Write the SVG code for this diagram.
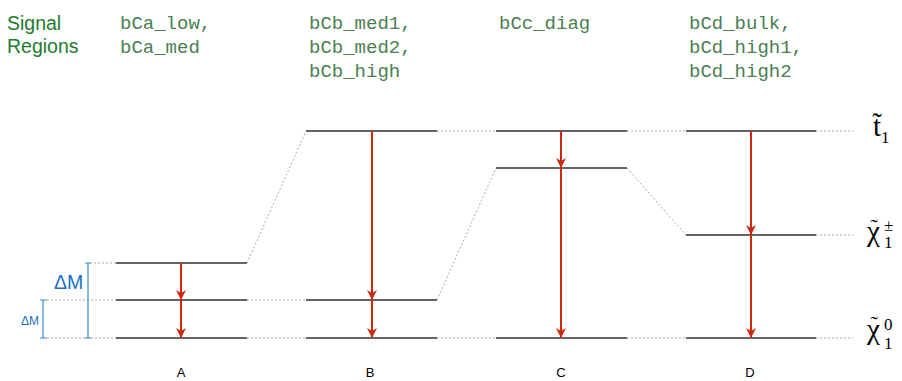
<svg xmlns="http://www.w3.org/2000/svg" width="902" height="381" viewBox="0 0 902 381">
<defs>
<marker id="ah" viewBox="0 0 10 10" refX="10" refY="5" markerWidth="11" markerHeight="10" markerUnits="userSpaceOnUse" orient="auto">
<path d="M0,0 L10,5 L0,10 L3,5 z" fill="#cc2a10"/>
</marker>
<style>
.lvl{stroke:#333;stroke-width:1.5;fill:none}
.dot{stroke:#aaa;stroke-width:1;stroke-dasharray:2,2;fill:none}
.arr{stroke:#cc2a10;stroke-width:2;fill:none;marker-end:url(#ah)}
.sr{font-family:"Liberation Mono","Courier New",monospace;font-size:19px;fill:#4a7f50}
.hd{font-family:"Liberation Sans",Arial,sans-serif;font-size:19.5px;fill:#1e7b2e}
.lab{font-family:"Liberation Sans",Arial,sans-serif;font-size:13px;fill:#000;text-anchor:middle}
.pt{font-family:"Liberation Serif","Times New Roman",serif;font-size:29px;fill:#000}
.ps{font-family:"Liberation Serif","Times New Roman",serif;font-size:17px;fill:#000}
.tl{font-family:"Liberation Serif","Times New Roman",serif;font-size:22px;fill:#000}
.br{stroke:#3a8ad8;stroke-width:1.2;fill:none}
.dm{font-family:"Liberation Sans",Arial,sans-serif;fill:#1a6fc4}
</style>
</defs>
<g id="header">
<text class="hd" x="7" y="30">Signal</text>
<text class="hd" x="7" y="53">Regions</text>
<text class="sr" x="120" y="29">bCa_low,</text>
<text class="sr" x="120" y="53">bCa_med</text>
<text class="sr" x="309" y="29">bCb_med1,</text>
<text class="sr" x="309" y="53">bCb_med2,</text>
<text class="sr" x="309" y="77">bCb_high</text>
<text class="sr" x="499" y="29">bCc_diag</text>
<text class="sr" x="689" y="29">bCd_bulk,</text>
<text class="sr" x="689" y="53">bCd_high1,</text>
<text class="sr" x="689" y="77">bCd_high2</text>
</g>
<g id="connectors">
<path class="dot" d="M90,263 H116 M47,300 H116 M47,338 H116"/>
<path class="dot" d="M247,263 L306,131 M247,300 H306 M247,338 H306"/>
<path class="dot" d="M437,300 L496,168 M437,131 H496 M437,338 H496"/>
<path class="dot" d="M627,168 L686,235 M627,131 H686 M627,338 H686"/>
<path class="dot" d="M816,131 H853 M816,235 H853 M816,338 H853"/>
</g>
<g id="colA">
<path class="lvl" d="M116,263 H247 M116,300 H247 M116,338 H247"/>
<path class="arr" d="M181,263 V300"/>
<path class="arr" d="M181,300 V338"/>
<text class="lab" x="181" y="377">A</text>
</g>
<g id="colB">
<path class="lvl" d="M306,131 H437 M306,300 H437 M306,338 H437"/>
<path class="arr" d="M372,131 V300"/>
<path class="arr" d="M372,300 V338"/>
<text class="lab" x="370" y="377">B</text>
</g>
<g id="colC">
<path class="lvl" d="M496,131 H627 M496,168 H627 M496,338 H627"/>
<path class="arr" d="M561,131 V168"/>
<path class="arr" d="M561,168 V338"/>
<text class="lab" x="561" y="377">C</text>
</g>
<g id="colD">
<path class="lvl" d="M686,131 H816 M686,235 H816 M686,338 H816"/>
<path class="arr" d="M751,131 V235"/>
<path class="arr" d="M751,235 V338"/>
<text class="lab" x="750" y="377">D</text>
</g>
<g id="deltaM">
<path class="br" d="M88,263 V338 M85,263 H91 M85,338 H91"/>
<path class="br" d="M43,300 V338 M40,300 H47 M40,338 H47"/>
<text class="dm" x="54" y="289" font-size="19.5">ΔM</text>
<text class="dm" x="21" y="325" font-size="12">ΔM</text>
</g>
<g id="particles">
<text class="pt" x="873" y="136" font-size="25">t̃</text>
<text class="ps" x="881" y="143">1</text>
<text class="pt" x="867" y="241">χ</text>
<text class="tl" x="870.5" y="234">˜</text>
<text class="ps" x="884" y="248">1</text>
<text class="ps" x="884" y="231" font-size="20">±</text>
<text class="pt" x="867" y="339">χ</text>
<text class="tl" x="870.5" y="331">˜</text>
<text class="ps" x="884" y="349">1</text>
<text class="ps" x="884" y="330">0</text>
</g>
</svg>
